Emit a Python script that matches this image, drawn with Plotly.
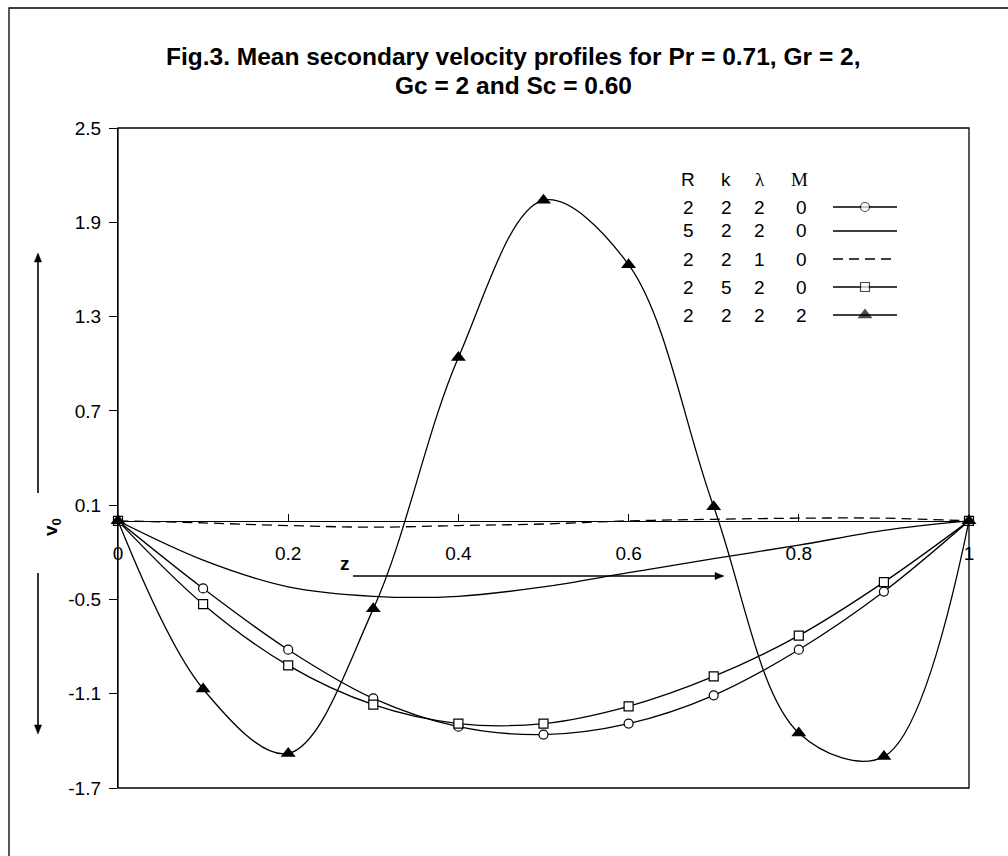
import plotly.graph_objects as go

# ---------------- data ----------------
z = [0.0, 0.1, 0.2, 0.3, 0.4, 0.5, 0.6, 0.7, 0.8, 0.9, 1.0]
v_base = [0, -0.43, -0.82, -1.13, -1.31, -1.36, -1.29, -1.11, -0.82, -0.45, 0]      # R=2 k=2 λ=2 M=0
v_R5 = [0, -0.25, -0.42, -0.48, -0.48, -0.42, -0.33, -0.24, -0.155, -0.06, 0]        # R=5 k=2 λ=2 M=0
v_lam1 = [0, -0.013, -0.03, -0.04, -0.03, -0.02, 0.0, 0.01, 0.017, 0.017, 0]         # R=2 k=2 λ=1 M=0
v_k5 = [0, -0.53, -0.92, -1.17, -1.29, -1.29, -1.18, -0.99, -0.73, -0.39, 0]         # R=2 k=5 λ=2 M=0
v_M2 = [0, -1.07, -1.48, -0.56, 1.04, 2.04, 1.63, 0.09, -1.35, -1.50, 0]             # R=2 k=2 λ=2 M=2

y_ticks = [-1.7, -1.1, -0.5, 0.1, 0.7, 1.3, 1.9, 2.5]
x_ticks = [0, 0.2, 0.4, 0.6, 0.8, 1.0]
x_ticklabels = ["0", "0.2", "0.4", "0.6", "0.8", "1"]

legend_header = ["R", "k", "λ", "M"]
legend_rows = [["2", "2", "2", "0"],
               ["5", "2", "2", "0"],
               ["2", "2", "1", "0"],
               ["2", "5", "2", "0"],
               ["2", "2", "2", "2"]]

title_lines = ["Fig.3. Mean secondary velocity profiles for Pr = 0.71, Gr = 2,",
               "Gc = 2 and Sc = 0.60"]

# ---------------- layout geometry ----------------
FW, FH = 1008, 856
L, R, T, B = 118, 969, 128, 788
PW, PH = R - L, B - T


def px(x):
    return (x - L) / PW


def py(y):
    return (B - y) / PH


FONT = "Liberation Sans, Arial, sans-serif"
SERIF = "Liberation Serif, Times New Roman, serif"
LW = 1.3
TXT = 19

styles = [
    dict(line=dict(color="black", width=LW, shape="spline", smoothing=1),
         marker=dict(symbol="circle", size=9, color="white", line=dict(color="black", width=1.2)),
         mode="lines+markers"),
    dict(line=dict(color="black", width=LW, shape="spline", smoothing=1), mode="lines"),
    dict(line=dict(color="black", width=LW, shape="spline", smoothing=1, dash="10px,6px"), mode="lines"),
    dict(line=dict(color="black", width=LW, shape="spline", smoothing=1),
         marker=dict(symbol="square", size=9, color="white", line=dict(color="black", width=1.2)),
         mode="lines+markers"),
    dict(line=dict(color="black", width=LW, shape="spline", smoothing=1),
         marker=dict(symbol="triangle-up", size=13, color="black", line=dict(color="black", width=0)),
         mode="lines+markers"),
]
series = [v_base, v_R5, v_lam1, v_k5, v_M2]

fig = go.Figure()
for vals, st in zip(series, styles):
    fig.add_trace(go.Scatter(x=z, y=vals, showlegend=False, hoverinfo="skip", cliponaxis=False, **st))

# ---------------- legend table (samples on overlay axes in plot-fraction units) ----------------
row_y = [207, 231, 259, 287, 315]
col_x = [688, 726, 759, 801]
head_x = [688, 726, 760, 799]
sx0, sxm, sx1 = 833, 865, 897
for i, (row, st) in enumerate(zip(legend_rows, styles)):
    yy = py(row_y[i])
    tr = dict(x=[px(sx0), px(sxm), px(sx1)], y=[yy, yy, yy], xaxis="x2", yaxis="y2",
              showlegend=False, hoverinfo="skip", mode=st["mode"], line=dict(st["line"]))
    tr["line"].pop("shape", None)
    tr["line"].pop("smoothing", None)
    if "marker" in st:
        m = dict(st["marker"])
        m["size"] = [0, m["size"], 0]
        tr["marker"] = m
    fig.add_trace(go.Scatter(**tr))

annotations = []
# title (two centred lines)
for ty, line in zip([57, 86], title_lines):
    annotations.append(dict(x=px(513), y=py(ty), xref="paper", yref="paper", text=f"<b>{line}</b>",
                            showarrow=False, xanchor="center", yanchor="middle",
                            font=dict(family=FONT, size=24.5, color="black")))

for j, h in enumerate(legend_header):
    annotations.append(dict(x=px(head_x[j]), y=py(180), xref="paper", yref="paper", text=h,
                            showarrow=False, xanchor="center", yanchor="middle",
                            font=dict(family=SERIF if j >= 2 else FONT, size=TXT, color="black")))
for i, row in enumerate(legend_rows):
    for j, t in enumerate(row):
        annotations.append(dict(x=px(col_x[j]), y=py(row_y[i]), xref="paper", yref="paper", text=t,
                                showarrow=False, xanchor="center", yanchor="middle",
                                font=dict(family=FONT, size=TXT, color="black")))

# axis labels
annotations.append(dict(x=px(38), y=py(527), xref="paper", yref="paper",
                        text="<b>v</b><sub><b>0</b></sub>", textangle=-90, showarrow=False,
                        font=dict(family=FONT, size=TXT, color="black")))
annotations.append(dict(x=px(338), y=py(576), xref="paper", yref="paper", text="<b>z</b>",
                        showarrow=False, font=dict(family=FONT, size=TXT, color="black")))

AW = 1.6


def arrow(x0, y0, x1, y1, head_len=9, head_half=3.6):
    """Arrow from pixel (x0,y0) to tip (x1,y1): a line plus a filled head."""
    dx, dy = x1 - x0, y1 - y0
    n = (dx * dx + dy * dy) ** 0.5
    ux, uy = dx / n, dy / n
    bx, by = x1 - ux * head_len, y1 - uy * head_len
    nx, ny = -uy, ux
    p1 = (bx + nx * head_half, by + ny * head_half)
    p2 = (bx - nx * head_half, by - ny * head_half)
    path = (f"M {px(x1)},{py(y1)} L {px(p1[0])},{py(p1[1])} "
            f"L {px(p2[0])},{py(p2[1])} Z")
    return [
        dict(type="line", xref="paper", yref="paper", x0=px(x0), y0=py(y0), x1=px(bx), y1=py(by),
             line=dict(color="black", width=AW)),
        dict(type="path", xref="paper", yref="paper", path=path, fillcolor="black",
             line=dict(color="black", width=0.5)),
    ]


shapes = [
    # plot-area frame
    dict(type="rect", xref="paper", yref="paper", x0=0, x1=1, y0=0, y1=1,
         line=dict(color="black", width=LW), layer="above"),
    # outer chart border
    dict(type="rect", xref="paper", yref="paper", x0=px(9), x1=px(1030), y0=py(880), y1=py(8),
         line=dict(color="black", width=LW)),
]
shapes += arrow(38, 493, 38, 253)
shapes += arrow(38, 573, 38, 734)
shapes += arrow(353, 576, 724, 576)

ymin, ymax = y_ticks[0], y_ticks[-1]

fig.update_layout(
    width=FW, height=FH,
    margin=dict(l=L, r=FW - R, t=T, b=FH - B),
    paper_bgcolor="white", plot_bgcolor="white",
    xaxis=dict(range=[0, 1], tickvals=x_ticks, ticktext=x_ticklabels, ticks="inside", ticklen=7,
               tickcolor="black", tickwidth=1, showline=True, linecolor="black", linewidth=LW,
               showgrid=False, zeroline=False, anchor="free",
               position=(0 - ymin) / (ymax - ymin), ticklabelstandoff=15,
               tickfont=dict(family=FONT, size=TXT, color="black")),
    yaxis=dict(range=[ymin, ymax], tickvals=y_ticks, ticktext=[f"{v:g}" for v in y_ticks],
               ticks="outside", ticklen=8, tickcolor="black", tickwidth=1,
               showline=True, linecolor="black", linewidth=LW, showgrid=False, zeroline=False,
               ticklabelstandoff=4, tickfont=dict(family=FONT, size=TXT, color="black")),
    xaxis2=dict(overlaying="x", range=[0, 1], visible=False, anchor="y2"),
    yaxis2=dict(overlaying="y", range=[0, 1], visible=False, anchor="x2"),
    annotations=annotations,
    shapes=shapes,
    showlegend=False,
)

fig.write_html("out.html")
